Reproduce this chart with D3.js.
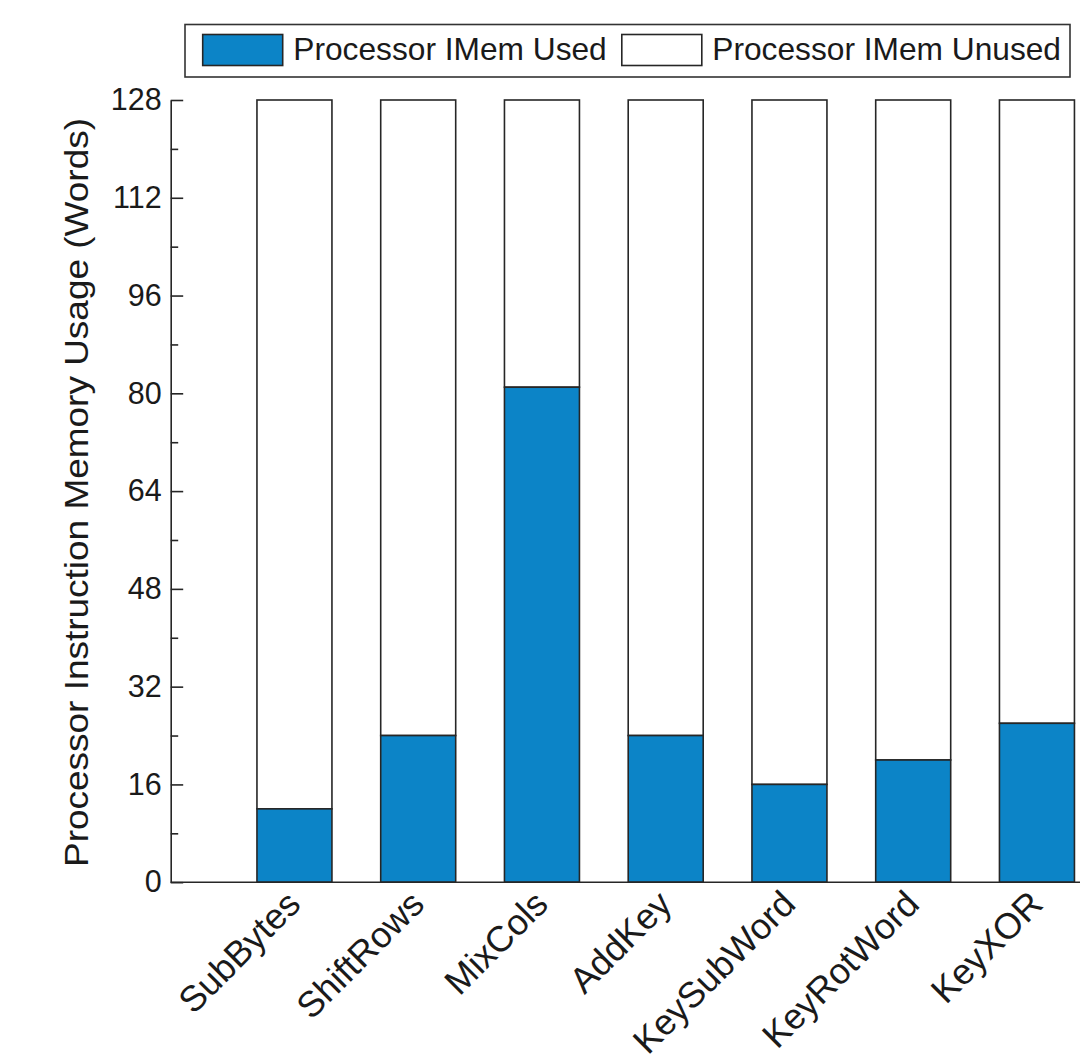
<!DOCTYPE html>
<html>
<head>
<meta charset="utf-8">
<script src="https://cdn.jsdelivr.net/npm/d3@7"></script>
<style>
html,body{margin:0;padding:0;background:#fff;overflow:hidden;}
svg text{font-family:"Liberation Sans",Arial,sans-serif;fill:#1a1a1a;}
</style>
</head>
<body>
<svg id="chart" width="1080" height="1054"></svg>
<script>
// ---- data ----
const categories = ["SubBytes","ShiftRows","MixCols","AddKey","KeySubWord","KeyRotWord","KeyXOR"];
const usedWords = [12, 24, 81, 24, 16, 20, 26];
const capacityWords = 128;
const yTickValues = [0, 16, 32, 48, 64, 80, 96, 112, 128];
const yMinorTickValues = [8, 24, 40, 56, 72, 88, 104, 120];
const legendLabels = ["Processor IMem Used", "Processor IMem Unused"];
const yTitle = "Processor Instruction Memory Usage (Words)";

// ---- layout ----
const BLUE = "#0c84c7";
const STROKE = "#262626";
const svg = d3.select("#chart");

const x = d3.scaleLinear().domain([0, categories.length + 1]).range([170.7, 170.7 + 8 * 123.75]);
const y = d3.scaleLinear().domain([0, capacityWords]).range([882.2, 100]);
const halfBar = 0.303;

const rows = categories.map((c, i) => ({cat: c, pos: i + 1, used: usedWords[i], unused: capacityWords - usedWords[i]}));

// unused (white) segments
svg.append("g").selectAll("rect").data(rows).join("rect")
  .attr("x", d => x(d.pos - halfBar))
  .attr("width", d => x(d.pos + halfBar) - x(d.pos - halfBar))
  .attr("y", d => y(d.used + d.unused))
  .attr("height", d => y(d.used) - y(d.used + d.unused))
  .attr("fill", "#fff").attr("stroke", STROKE).attr("stroke-width", 1.6);

// used (blue) segments
svg.append("g").selectAll("rect").data(rows).join("rect")
  .attr("x", d => x(d.pos - halfBar))
  .attr("width", d => x(d.pos + halfBar) - x(d.pos - halfBar))
  .attr("y", d => y(d.used))
  .attr("height", d => y(0) - y(d.used))
  .attr("fill", BLUE).attr("stroke", STROKE).attr("stroke-width", 1.6);

// y axis
const yAxis = d3.axisLeft(y).tickValues(yTickValues).tickSizeInner(-12.5).tickSizeOuter(0).tickPadding(9);
const gy = svg.append("g").attr("transform", `translate(${x(0)},0)`).call(yAxis);
gy.attr("font-family", null);
gy.select(".domain").attr("stroke", STROKE).attr("stroke-width", 1.6);
gy.selectAll(".tick line").attr("stroke", STROKE).attr("stroke-width", 1.6);
gy.selectAll(".tick text").attr("font-size", 30.5).attr("fill", "#1a1a1a");

const yMinor = d3.axisLeft(y).tickValues(yMinorTickValues).tickSizeInner(-7.5).tickSizeOuter(0).tickFormat("");
const gym = svg.append("g").attr("transform", `translate(${x(0)},0)`).call(yMinor);
gym.select(".domain").remove();
gym.selectAll(".tick line").attr("stroke", STROKE).attr("stroke-width", 1.6);

// x axis line
svg.append("line")
  .attr("x1", x(0)).attr("x2", x(categories.length + 1))
  .attr("y1", y(0)).attr("y2", y(0))
  .attr("stroke", STROKE).attr("stroke-width", 1.6);

// x labels
svg.append("g").selectAll("text").data(rows).join("text")
  .attr("transform", d => `translate(${x(d.pos) + 8},${y(0) + 24}) rotate(-45)`)
  .attr("text-anchor", "end")
  .attr("font-size", 36)
  .text(d => d.cat);

// y title
svg.append("text")
  .attr("transform", `translate(88,492.5) rotate(-90)`)
  .attr("text-anchor", "middle")
  .attr("font-size", 33)
  .attr("textLength", 749)
  .attr("lengthAdjust", "spacingAndGlyphs")
  .text(yTitle);

// legend
const lg = svg.append("g");
lg.append("rect").attr("x", 185).attr("y", 24.5).attr("width", 885).attr("height", 52.5)
  .attr("fill", "#fff").attr("stroke", "#333").attr("stroke-width", 1.6);
const legendItems = [
  {label: legendLabels[0], fill: BLUE, sx: 202.7, tx: 293.3},
  {label: legendLabels[1], fill: "#fff", sx: 621.8, tx: 712.3}
];
legendItems.forEach(it => {
  lg.append("rect").attr("x", it.sx).attr("y", 34.5).attr("width", 80).attr("height", 31)
    .attr("fill", it.fill).attr("stroke", STROKE).attr("stroke-width", 1.6);
  lg.append("text").attr("x", it.tx).attr("y", 59.5).attr("font-size", 31.7).text(it.label);
});
</script>
</body>
</html>
